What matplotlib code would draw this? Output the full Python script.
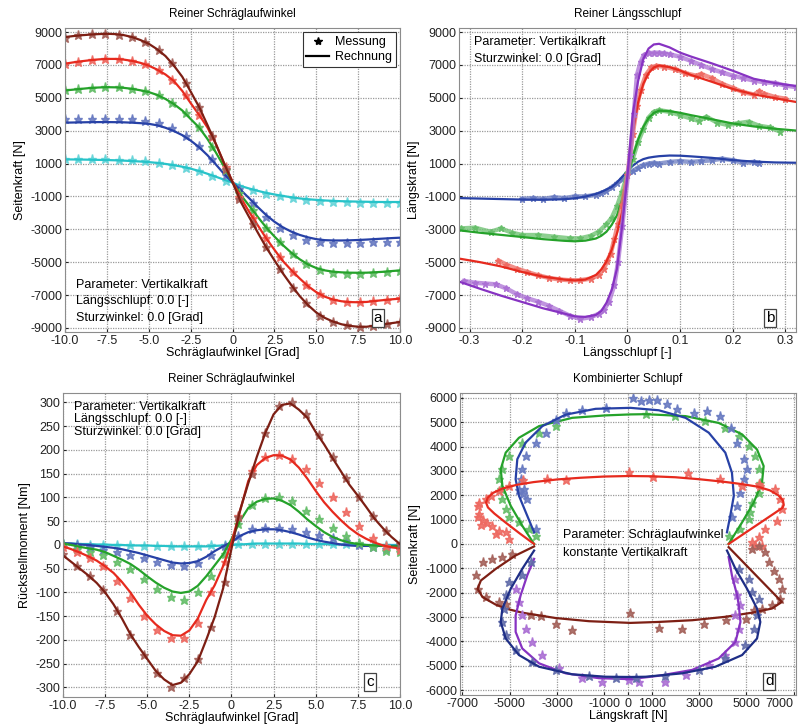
import numpy as np
import matplotlib
matplotlib.use('Agg')
import matplotlib.pyplot as plt
from matplotlib.colors import to_rgb

plt.rcParams['font.family'] = ['Liberation Sans', 'DejaVu Sans']
plt.rcParams['axes.unicode_minus'] = False

C_BROWN = '#7d1f14'
C_RED = '#e62a1e'
C_GREEN = '#25a22a'
C_BLUE = '#2741a6'
C_NAVY = '#1e2e86'
C_CYAN = '#27c3c9'
C_PURPLE = '#8733c2'

# ---------------- panel a: Seitenkraft ueber Schraeglaufwinkel ----------------
ang = np.arange(-10, 10.01, 0.5)
ang_meas = np.arange(-10, 10.01, 0.8)

fy_brown = [8700, 8760, 8810, 8850, 8880, 8900, 8880, 8820, 8700, 8520, 8290, 7960, 7540, 6960, 6280, 5380,
            4450, 3350, 2200, 1000, -150, -1350, -2280, -3190, -4090, -4890, -5680, -6390, -7060, -7610, -8070,
            -8390, -8620, -8780, -8880, -8930, -8930, -8860, -8780, -8710, -8640]
fy_red = [7080, 7160, 7230, 7290, 7340, 7370, 7370, 7330, 7250, 7130, 6960, 6720, 6420, 6020, 5420, 4680,
          3970, 3200, 2200, 1000, -100, -1100, -1960, -2750, -3540, -4250, -4930, -5480, -5990, -6460, -6830,
          -7100, -7280, -7380, -7430, -7440, -7420, -7360, -7310, -7260, -7220]
fy_green = [5450, 5500, 5550, 5600, 5630, 5650, 5640, 5610, 5550, 5460, 5350, 5180, 4930, 4620, 4230, 3710,
            3200, 2500, 1680, 800, -150, -920, -1580, -2240, -2880, -3440, -3960, -4420, -4820, -5140, -5360,
            -5500, -5580, -5620, -5640, -5645, -5640, -5615, -5585, -5540, -5500]
fy_blue = [3490, 3500, 3510, 3520, 3525, 3525, 3520, 3510, 3490, 3460, 3420, 3330, 3180, 2980, 2730, 2400,
           2000, 1510, 950, 360, -150, -620, -1120, -1640, -2130, -2540, -2880, -3140, -3340, -3490, -3600,
           -3660, -3680, -3680, -3670, -3650, -3625, -3595, -3565, -3535, -3510]
fy_cyan = [1255, 1250, 1245, 1235, 1225, 1215, 1200, 1180, 1155, 1125, 1090, 1040, 980, 900, 810, 690,
           550, 380, 200, 20, -160, -370, -520, -660, -780, -880, -970, -1050, -1120, -1170, -1210,
           -1245, -1270, -1290, -1305, -1315, -1325, -1335, -1340, -1340, -1340]

m_fy_brown = [8650, 8800, 8880, 8900, 8820, 8700, 8420, 7900, 7100, 5900, 4450, 2700, 700, -1150, -2700,
              -4100, -5400, -6550, -7500, -8250, -8650, -8850, -8950, -8900, -8750, -8620]
m_fy_red = [7050, 7200, 7300, 7380, 7350, 7250, 7080, 6700, 6100, 5150, 3950, 2600, 800, -1050, -2300,
            -3550, -4700, -5600, -6400, -6950, -7300, -7450, -7450, -7350, -7300, -7200]
m_fy_green = [5450, 5550, 5620, 5680, 5660, 5560, 5420, 5150, 4700, 4050, 3200, 2000, 620, -800, -1850,
              -2900, -3780, -4520, -5100, -5480, -5650, -5700, -5700, -5650, -5600, -5520]
m_fy_blue = [3700, 3720, 3730, 3740, 3720, 3690, 3620, 3470, 3150, 2680, 2050, 1300, 280, -550, -1400,
             -2250, -2900, -3350, -3650, -3800, -3850, -3850, -3830, -3800, -3780, -3760]
m_fy_cyan = [1300, 1300, 1290, 1280, 1240, 1190, 1130, 1040, 930, 760, 530, 250, -30, -350, -620,
             -830, -990, -1120, -1220, -1290, -1330, -1360, -1380, -1390, -1400, -1400]

# ---------------- panel b: Laengskraft ueber Laengsschlupf ----------------
slip = [-0.32, -0.28, -0.24, -0.2, -0.16, -0.12, -0.1, -0.08, -0.06, -0.05, -0.04, -0.03, -0.02, -0.01, 0,
        0.01, 0.02, 0.03, 0.04, 0.05, 0.06, 0.08, 0.1, 0.12, 0.16, 0.2, 0.24, 0.28, 0.32]
fx_purple = [-6180, -6620, -7040, -7425, -7810, -8130, -8300, -8330, -8210, -7980, -7480, -6700, -5400, -2760,
             300, 4000, 6000, 7350, 8000, 8250, 8290, 8070, 7750, 7520, 7100, 6650, 6160, 5900, 5720]
fx_red = [-4780, -5000, -5260, -5600, -5880, -6060, -6110, -6060, -5780, -5450, -4960, -4250, -3250, -1950,
          200, 2900, 4700, 5850, 6500, 6850, 6970, 6870, 6660, 6400, 5980, 5540, 5210, 4980, 4750]
fx_green = [-3060, -3210, -3340, -3470, -3600, -3700, -3730, -3690, -3560, -3400, -3150, -2730, -2150, -1180,
            150, 1420, 2450, 3230, 3770, 4080, 4220, 4190, 4090, 3950, 3700, 3440, 3260, 3120, 3010]
fx_blue = [-1100, -1130, -1160, -1190, -1200, -1170, -1110, -1010, -850, -730, -580, -420, -150, 200,
           550, 870, 1110, 1270, 1360, 1410, 1450, 1490, 1480, 1440, 1350, 1210, 1120, 1070, 1050]

m_slip_purple = [-0.31, -0.29, -0.27, -0.25, -0.23, -0.21, -0.19, -0.17, -0.15, -0.13, -0.11, -0.09, -0.07,
                 -0.055, -0.045, -0.035, -0.025, -0.018, -0.01, 0.005, 0.012, 0.018, 0.025, 0.031, 0.04, 0.05,
                 0.06, 0.07, 0.08, 0.1, 0.12, 0.14, 0.16, 0.18, 0.2, 0.22, 0.24, 0.26, 0.28, 0.3, 0.32]
m_fx_purple = [-6150, -6250, -6300, -6350, -6600, -6950, -7200, -7400, -7650, -7950, -8250, -8450, -8350,
               -8150, -7900, -7400, -6400, -5000, -2800, 1500, 4000, 6400, 7200, 7600, 7700, 7750, 7750, 7700,
               7650, 7500, 7250, 7000, 6750, 6550, 6350, 6200, 6050, 5950, 5900, 5750, 5650]
m_slip_red = [-0.245, -0.23, -0.21, -0.19, -0.17, -0.15, -0.13, -0.11, -0.09, -0.07, -0.055, -0.045, -0.038,
              -0.032, -0.025, -0.018, -0.01, 0.0, 0.01, 0.018, 0.025, 0.035, 0.045, 0.055, 0.07, 0.09, 0.11,
              0.13, 0.14, 0.16, 0.18, 0.2, 0.22, 0.24, 0.25, 0.26, 0.28, 0.3]
m_fx_red = [-4900, -5150, -5400, -5600, -5800, -5950, -6050, -6100, -6100, -6000, -5800, -5400, -4900, -4500,
            -3600, -2700, -1500, 300, 2800, 4500, 5500, 6400, 6850, 6950, 6900, 6750, 6500, 6350, 6450, 6200,
            5850, 5600, 5350, 5200, 5400, 5250, 5050, 4950]
m_slip_green = [-0.317, -0.29, -0.26, -0.24, -0.22, -0.2, -0.17, -0.14, -0.11, -0.09, -0.07, -0.055, -0.04,
                -0.03, -0.02, -0.01, 0.0, 0.01, 0.02, 0.03, 0.04, 0.05, 0.06, 0.08, 0.1, 0.12, 0.135, 0.15,
                0.17, 0.19, 0.21, 0.23, 0.25, 0.27, 0.29]
m_fx_green = [-2950, -2900, -3150, -2950, -3200, -3350, -3350, -3450, -3550, -3550, -3400, -3150, -2700,
              -2300, -1600, -700, 400, 1300, 2300, 3100, 3800, 4150, 4250, 4150, 3950, 3750, 3600, 3850,
              3500, 3350, 3450, 3550, 3300, 3200, 2950]
m_slip_blue = [-0.2, -0.18, -0.16, -0.14, -0.12, -0.1, -0.08, -0.06, -0.05, -0.04, -0.03, -0.02, -0.01, 0.0,
               0.01, 0.02, 0.03, 0.04, 0.05, 0.06, 0.08, 0.1, 0.12, 0.14, 0.16, 0.18, 0.2, 0.22, 0.24, 0.25]
m_fx_blue = [-1150, -1100, -1150, -1050, -1100, -1000, -1000, -900, -800, -650, -450, -200, 50, 300,
             550, 750, 900, 1000, 1050, 1000, 1100, 1150, 1100, 1150, 1200, 1300, 1200, 1050, 1100, 1050]

# ---------------- panel c: Rueckstellmoment ----------------
mz_brown = [-22, -36, -50, -64, -80, -100, -125, -155, -188, -215, -240, -265, -283, -295, -290, -272,
            -245, -200, -152, -92, -8, 72, 130, 185, 235, 275, 295, 298, 285, 268, 238, 212, 183, 155,
            127, 104, 80, 55, 35, 17, 2]
mz_red = [-3, -9, -16, -24, -33, -45, -59, -78, -100, -126, -149, -167, -181, -190, -191, -180, -155,
          -116, -85, -45, 5, 70, 135, 168, 183, 189, 188, 180, 163, 140, 114, 90, 70, 52, 36, 23, 13, 5,
          -1, -5, -7]
mz_green = [3, 0, -4, -7, -10, -15, -23, -31, -40, -52, -66, -79, -90, -98, -101, -98, -86, -66, -43,
            -20, 12, 50, 78, 91, 97, 98, 93, 84, 70, 54, 40, 27, 17, 10, 5, 2, 0, -1, -2, -3, -3]
mz_blue = [4, 3, 1, 0, -2, -4, -6, -9, -13, -17, -22, -27, -32, -37, -39, -38, -34, -25, -13, -3, 6,
           19, 27, 31, 33, 33, 31, 27, 22, 16, 11, 7, 4, 1, -1, -2, -2, -2, -2, -2, -2]
mz_cyan = [3, 3, 2, 2, 1, 1, 0, 0, -1, -1, -1, -2, -2, -3, -3, -3, -3, -3, -2, -1, 0, 1, 2, 3, 3, 3,
           3, 3, 3, 2, 2, 2, 1, 1, 1, 1, 0, 0, 0, 0, 0]

m_mz_brown = [-20, -45, -65, -95, -138, -190, -232, -270, -298, -280, -240, -172, -78, 58, 150, 235, 292,
              300, 275, 232, 186, 142, 102, 62, 30, 2]
m_mz_red = [-5, -15, -28, -45, -75, -112, -150, -180, -195, -195, -165, -100, -35, 60, 155, 185, 190, 182,
            160, 130, 100, 70, 40, 15, -3, -10]
m_mz_green = [2, -8, -15, -22, -35, -50, -72, -93, -110, -115, -100, -65, -20, 45, 85, 98, 102, 92, 72,
              55, 35, 18, 5, -5, -12, -15]
m_mz_blue = [3, -1, -5, -10, -15, -22, -28, -35, -42, -45, -38, -22, -2, 18, 33, 35, 35, 33, 28, 22, 15,
             8, 0, -5, -8, -8]
m_mz_cyan = [2, 1, 0, 0, -1, -1, -2, -2, -2, -2, -2, -1, 0, 1, 2, 2, 2, 2, 2, 2, 2, 1, 1, 0, 0, 0]

# ---------------- panel d: Kombinierter Schlupf (Fx, Fy) ----------------
d_red_fx = [-3970, -4600, -5200, -5650, -5920, -6000, -5930, -5700, -5300, -4700, -4000, -3000, -2000, -1000,
            0, 1000, 2000, 3000, 4000, 4800, 5500, 6000, 6350, 6550, 6580, 6520, 4250]
d_red_fy = [0, 450, 900, 1250, 1500, 1700, 1900, 2100, 2280, 2430, 2540, 2650, 2720, 2770, 2790, 2780, 2740,
            2660, 2560, 2460, 2350, 2200, 2000, 1780, 1600, 1480, 0]
d_green_fx = [-3970, -4470, -4960, -5310, -5380, -5170, -4610, -3760, -2360, -950, 100, 740, 2430, 3830,
              4820, 5450, 5730, 5660, 5310, 4820, 4250]
d_green_fy = [0, 750, 1570, 2390, 3070, 3750, 4360, 4840, 5180, 5280, 5320, 5330, 5250, 4970, 4500, 3880,
              3200, 2520, 1700, 890, 0]
d_blue_fx = [-3970, -4260, -4610, -4750, -4680, -4330, -3620, -2640, -1370, 100, 1300, 2430, 3410, 4110,
             4390, 4470, 4320, 4180]
d_blue_fy = [480, 1160, 1980, 2660, 3480, 4160, 4840, 5310, 5550, 5590, 5490, 5180, 4570, 3750, 2930, 1980,
             1160, 480]
d_brown_fx = [-3970, -4750, -5590, -6220, -6360, -6150, -5590, -5170, -4470, -3060, -1650, 100, 1300, 2710,
              4110, 5240, 6080, 6500, 4250]
d_brown_fy = [-100, -470, -1020, -1500, -1840, -2180, -2490, -2650, -2820, -3040, -3170, -3240, -3200, -3130,
              -2990, -2820, -2650, -2380, -130]
d_navy_fx = [-3970, -4470, -4960, -5310, -5380, -5170, -4610, -3760, -2360, -950, 100, 740, 2290, 3690, 4820,
             5450, 5590, 5450, 5030, 4540, 4180]
d_navy_fy = [-270, -1020, -1840, -2650, -3200, -3880, -4560, -5040, -5350, -5450, -5460, -5450, -5310, -5040,
             -4560, -3880, -3200, -2650, -1840, -1020, -270]
d_purple_fx = [-3970, -4260, -4540, -4750, -4750, -4470, -3760, -2640, -1230, 100, 1300, 2710, 3830, 4540,
               4750, 4680, 4610, 4390, 4250]
d_purple_fy = [-610, -1290, -2110, -2930, -3610, -4290, -4900, -5310, -5510, -5550, -5410, -5170, -4700, -4020,
               -3200, -2520, -2110, -1290, -540]

m_d_red_fx = [-5030, -5170, -5450, -5600, -5730, -5950, -6150, -6200, -6290, -6350, -6360, -6290, -6010, -5800,
              -5450, -5030, -4460, -3410, -2610, 60, 1050, 2520, 3870, 4820, 5520, 5590, 6220, 6430, 6500,
              6290, 5800, 5520, 5240, 5380, 5660]
m_d_red_fy = [210, 480, 550, 400, 750, 870, 1000, 800, 1230, 1100, 1570, 1700, 1840, 1980, 2180, 2390, 2630,
              2660, 2630, 2960, 2770, 2930, 2660, 2390, 2450, 2380, 2250, 1840, 1430, 960, 620, 270, 70, -50, -70]
m_d_brown_fx = [-4890, -5310, -5730, -6150, -6430, -6360, -6010, -5450, -5170, -4110, -3690, -3060, -2380, 100,
                1300, 2290, 3200, 4160, 5000, 5310, 5660, 6080, 6430, 6500, 6360, 6150, 5940, 5800, 5520, 5240]
m_d_brown_fy = [-410, -540, -610, -750, -1290, -1840, -2180, -2380, -2450, -2900, -2970, -3270, -3540, -2820,
                -3430, -3500, -3300, -3130, -3090, -2720, -2650, -2520, -2250, -1840, -1430, -1090, -750, -340,
                -70, -200]
m_d_green_fx = [-3900, -4190, -4610, -5030, -5170, -5310, -5380, -5450, -5310, -5030, -4470, -3760, -3060, 740,
                2000, 3270, 4110, 4680, 5100, 5380, 5520, 5590, 5520, 5240, 5170, 5100, 4750, 4250]
m_d_green_fy = [340, 610, 890, 1090, 1430, 1840, 2250, 2660, 3070, 3610, 4160, 4570, 4840, 5350, 5250, 5040,
                4770, 4430, 4020, 3610, 3070, 2520, 2110, 1700, 1300, 1020, 610, 340]
m_d_blue_fx = [-3900, -4260, -4450, -4600, -4400, -4540, -4470, -4330, -3900, -3480, -3060, -2640, -1940, -950,
               200, 530, 880, 1230, 1650, 2080, 2780, 3340, 3900, 4330, 4610, 4890, 5030, 4890, 4750, 4610, 4400]
m_d_blue_fy = [610, 1840, 2050, 2200, 2250, 2660, 3070, 3610, 4160, 4570, 5110, 5380, 5520, 5590, 6000, 5860,
               5930, 5910, 5740, 5530, 5380, 5460, 5260, 4770, 4160, 3470, 3070, 2660, 2110, 1570, 1100]
m_d_navy_fx = [-4120, -4470, -5030, -5170, -5240, -5310, -5170, -4750, -4040, -3060, -1650, -530, 320, 1580,
               2990, 4110, 4960, 5310, 5450, 5520, 5240, 5100, 4680]
m_d_navy_fy = [-750, -1290, -1560, -2110, -2650, -3200, -3740, -4360, -4830, -5170, -5410, -5510, -5510, -5410,
               -5170, -4700, -4150, -3470, -2930, -2250, -1970, -1430, -1020]
m_d_purple_fx = [-4750, -4610, -4470, -4330, -4040, -3620, -2920, -1940, -1090, 30, 460, 1580, 2430, 3410, 4110,
                 4540, 4680, 4540, 4750, 4610, 4540]
m_d_purple_fy = [-1840, -2380, -2930, -3470, -4020, -4560, -5110, -5510, -5650, -5580, -5650, -5650, -5380,
                 -4970, -4560, -4020, -3470, -2930, -2520, -2110, -1430]


def light(c, f=0.3):
    r, g, b = to_rgb(c)
    return (r + (1 - r) * f, g + (1 - g) * f, b + (1 - b) * f)


def style_axes(ax, title, xlabel, ylabel):
    ax.set_title(title, fontsize=8.5, pad=8)
    ax.set_xlabel(xlabel, fontsize=9, labelpad=0)
    ax.set_ylabel(ylabel, fontsize=9, labelpad=3)
    ax.grid(True, color='#9a9a9a', linestyle=(0, (1, 1)), linewidth=0.9)
    ax.set_axisbelow(True)
    ax.tick_params(direction='in', length=2, labelsize=9, pad=2, colors='#222222')
    for sp in ax.spines.values():
        sp.set_color('#8c8c8c')


def letter(ax, s, x, y):
    ax.text(x, y, s, transform=ax.transAxes, fontsize=11, ha='center', va='center',
            bbox=dict(boxstyle='square,pad=0.12', fc='white', ec='#444444', lw=0.9))


def meas(ax, x, y, c, ms=6.5):
    ax.plot(x, y, ls='none', marker='*', ms=ms, color=light(c), mec=light(c), alpha=0.9)


fig = plt.figure(figsize=(8.02, 7.26), dpi=100)

# a
ax = fig.add_axes([0.081, 0.5427, 0.418, 0.4187])
for c, l, m in [(C_CYAN, fy_cyan, m_fy_cyan), (C_BLUE, fy_blue, m_fy_blue), (C_GREEN, fy_green, m_fy_green),
                (C_RED, fy_red, m_fy_red), (C_BROWN, fy_brown, m_fy_brown)]:
    meas(ax, ang_meas, m, c)
    ax.plot(ang, l, color=c, lw=1.6)
ax.set_xlim(-10, 10)
ax.set_ylim(-9250, 9250)
ax.set_xticks([-10, -7.5, -5, -2.5, 0, 2.5, 5, 7.5, 10])
ax.set_xticklabels(['-10.0', '-7.5', '-5.0', '-2.5', '0', '2.5', '5.0', '7.5', '10.0'])
ax.set_yticks(range(-9000, 9001, 2000))
style_axes(ax, 'Reiner Schräglaufwinkel', 'Schräglaufwinkel [Grad]', 'Seitenkraft [N]')
h1, = ax.plot([], [], ls='none', marker='*', ms=6, color='black')
h2, = ax.plot([], [], color='black', lw=1.6)
leg = ax.legend([h1, h2], ['Messung', 'Rechnung'], loc='upper right', fontsize=9, fancybox=False,
                edgecolor='#333333', framealpha=1, handlelength=1.8, borderaxespad=0.35,
                borderpad=0.3, labelspacing=0.25, handletextpad=0.5)
leg.get_frame().set_linewidth(0.8)
ax.text(0.033, 0.025, 'Parameter: Vertikalkraft\nLängsschlupf: 0.0 [-]\nSturzwinkel: 0.0 [Grad]',
        transform=ax.transAxes, fontsize=9, va='bottom', ha='left', linespacing=1.55)
letter(ax, 'a', 0.934, 0.045)

# b
ax = fig.add_axes([0.5723, 0.5427, 0.4202, 0.4187])
for c, ms_, mf, l in [(C_BLUE, m_slip_blue, m_fx_blue, fx_blue), (C_GREEN, m_slip_green, m_fx_green, fx_green),
                      (C_RED, m_slip_red, m_fx_red, fx_red), (C_PURPLE, m_slip_purple, m_fx_purple, fx_purple)]:
    ax.plot(ms_, mf, color=light(c, 0.35), lw=3.2, alpha=0.8)
    meas(ax, ms_, mf, c, ms=5)
    ax.plot(slip, l, color=c, lw=1.6)
ax.set_xlim(-0.32, 0.32)
ax.set_ylim(-9250, 9250)
ax.set_xticks([-0.3, -0.2, -0.1, 0, 0.1, 0.2, 0.3])
ax.set_xticklabels(['-0.3', '-0.2', '-0.1', '0', '0.1', '0.2', '0.3'])
ax.set_yticks(range(-9000, 9001, 2000))
style_axes(ax, 'Reiner Längsschlupf', 'Längsschlupf [-]', 'Längskraft [N]')
ax.text(0.045, 0.975, 'Parameter: Vertikalkraft\nSturzwinkel: 0.0 [Grad]',
        transform=ax.transAxes, fontsize=9, va='top', ha='left', linespacing=1.55)
letter(ax, 'b', 0.923, 0.045)

# c
ax = fig.add_axes([0.0786, 0.04, 0.42, 0.4187])
for c, l, m in [(C_CYAN, mz_cyan, m_mz_cyan), (C_BLUE, mz_blue, m_mz_blue), (C_GREEN, mz_green, m_mz_green),
                (C_RED, mz_red, m_mz_red), (C_BROWN, mz_brown, m_mz_brown)]:
    meas(ax, ang_meas, m, c)
    ax.plot(ang, l, color=c, lw=1.6)
ax.set_xlim(-10, 10)
ax.set_ylim(-320, 320)
ax.set_xticks([-10, -7.5, -5, -2.5, 0, 2.5, 5, 7.5, 10])
ax.set_xticklabels(['-10.0', '-7.5', '-5.0', '-2.5', '0', '2.5', '5.0', '7.5', '10.0'])
ax.set_yticks(range(-300, 301, 50))
style_axes(ax, 'Reiner Schräglaufwinkel', 'Schräglaufwinkel [Grad]', 'Rückstellmoment [Nm]')
ax.text(0.033, 0.975, 'Parameter: Vertikalkraft\nLängsschlupf: 0.0 [-]\nSturzwinkel: 0.0 [Grad]',
        transform=ax.transAxes, fontsize=9, va='top', ha='left', linespacing=1.1)
letter(ax, 'c', 0.911, 0.05)

# d
ax = fig.add_axes([0.5736, 0.0427, 0.419, 0.416])
for c, mx, my, lx, ly in [(C_GREEN, m_d_green_fx, m_d_green_fy, d_green_fx, d_green_fy),
                          (C_BLUE, m_d_blue_fx, m_d_blue_fy, d_blue_fx, d_blue_fy),
                          (C_RED, m_d_red_fx, m_d_red_fy, d_red_fx, d_red_fy),
                          (C_BROWN, m_d_brown_fx, m_d_brown_fy, d_brown_fx, d_brown_fy),
                          (C_PURPLE, m_d_purple_fx, m_d_purple_fy, d_purple_fx, d_purple_fy),
                          (C_NAVY, m_d_navy_fx, m_d_navy_fy, d_navy_fx, d_navy_fy)]:
    meas(ax, mx, my, c)
    ax.plot(lx, ly, color=c, lw=1.6)
ax.set_xlim(-7100, 7100)
ax.set_ylim(-6200, 6200)
ax.set_xticks([-7000, -5000, -3000, -1000, 0, 1000, 3000, 5000, 7000])
ax.set_yticks(range(-6000, 6001, 1000))
style_axes(ax, 'Kombinierter Schlupf', 'Längskraft [N]', 'Seitenkraft [N]')
xt = ax.get_xticklabels()
xt[-1].set_horizontalalignment('right')
xt[-1].set_x(7300)
ax.text(-2760, 0, 'Parameter: Schräglaufwinkel\nkonstante Vertikalkraft', fontsize=9,
        va='center', ha='left', linespacing=1.6)
letter(ax, 'd', 0.92, 0.045)

fig.savefig('out.png', dpi=100, facecolor='white')
